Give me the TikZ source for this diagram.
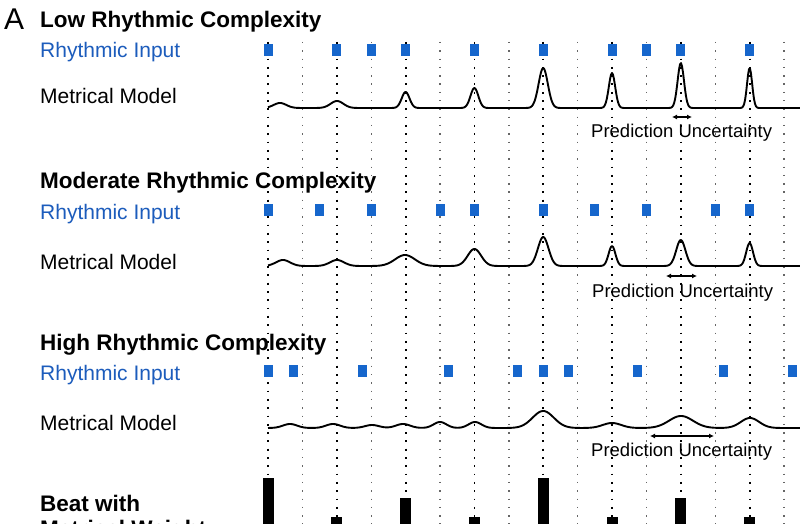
\documentclass[tikz,border=0pt]{standalone}
\usepackage{fontspec}
\setmainfont{Liberation Sans}
\usetikzlibrary{arrows.meta}
\definecolor{onsetblue}{RGB}{22,102,204}
\definecolor{labelblue}{RGB}{28,92,188}
\def\onset(#1,#2){\fill[onsetblue] (#1-4.5,#2-5.7) rectangle (#1+4.5,#2+5.7);}
\def\weight(#1,#2){\fill[black] (#1-5.5,#2) rectangle (#1+5.5,530);}
\pgfmathdeclarefunction{bump}{3}{%
  \begingroup\pgfmathparse{exp(-(min(abs(#1-#2)/#3,4))^2)}\pgfmathsmuggle\pgfmathresult\endgroup}
\tikzset{
  beatline/.style={line width=1.8pt, dash pattern=on 1.8pt off 6.5pt},
  offbeatline/.style={black!60, line width=1.4pt, dash pattern=on 1.4pt off 6.9pt},
  model/.style={line width=1.9pt, line join=round},
  heading/.style={anchor=base west, inner sep=0pt, font=\fontsize{22.5}{27}\selectfont\bfseries},
  rowlabel/.style={anchor=base west, inner sep=0pt, font=\fontsize{21}{25}\selectfont},
  uncertainty/.style={anchor=base west, inner sep=0pt, font=\fontsize{18.5}{22}\selectfont},
  spread/.style={{Latex[length=5pt,width=5pt]}-{Latex[length=5pt,width=5pt]}, line width=1.2pt}
}
\begin{document}
\begin{tikzpicture}[x=1pt, y=-1pt]
			%%%%% START %%%%%
			\clip (0,0) rectangle (800,524);
			\fill[white] (0,0) rectangle (800,524);
			
			% grid of beats
			\foreach \i in {0,2,...,14} \draw[beatline] ({268+34.4*\i},42) -- ({268+34.4*\i},524);
			\foreach \i in {1,3,...,15} \draw[offbeatline] ({268+34.4*\i},42) -- ({268+34.4*\i},524);
			
			\node[anchor=base west, inner sep=0pt, font=\fontsize{30}{36}\selectfont] (panel) at (4,29.5) {A};
			
			% low
			\node[heading] (lowhead) at (40,28) {Low Rhythmic Complexity};
			\node[rowlabel, text=labelblue] (lowinput) at (40,58) {Rhythmic Input};
			\node[rowlabel] (lowmodel) at (40,103.5) {Metrical Model};
			
			\onset(268,50) \onset(336.8,50) \onset(371.2,50) \onset(405.6,50) \onset(474.4,50)
			\onset(543.2,50) \onset(612,50) \onset(646.4,50) \onset(680.8,50) \onset(749.6,50)
			
			\draw[model] plot[domain=268:800, samples=533] (\x, {108 - 5*bump(\x,280,9) - 7*bump(\x,337,9)
				- 16*bump(\x,405.6,5.5) - 20*bump(\x,474.4,5.5) - 40*bump(\x,543.2,6.5) - 35*bump(\x,612,4.5)
				- 45*bump(\x,680.8,4.5) - 40*bump(\x,749.6,3.6)});
			
			\coordinate (lowleft) at (672,117);
			\coordinate (lowright) at (692,117);
			\draw[spread] (lowleft) -- (lowright);
			\node[uncertainty] (lowspread) at (591,138) {Prediction Uncertainty};
			
			% moderate
			\node[heading] (modhead) at (40,188.5) {Moderate Rhythmic Complexity};
			\node[rowlabel, text=labelblue] (modinput) at (40,219) {Rhythmic Input};
			\node[rowlabel] (modmodel) at (40,269) {Metrical Model};
			
			\onset(268,210) \onset(319.6,210) \onset(371.2,210) \onset(440,210) \onset(474.4,210)
			\onset(543.2,210) \onset(594.8,210) \onset(646.4,210) \onset(715.2,210) \onset(749.6,210)
			
			\draw[model] plot[domain=268:800, samples=533] (\x, {266 - 6*bump(\x,283,10) - 6*bump(\x,337,10)
				- 11*bump(\x,405,14) - 17*bump(\x,474.4,9.5) - 29*bump(\x,543.2,7.5) - 20*bump(\x,612,4.8)
				- 26*bump(\x,680.8,6.5) - 23*bump(\x,749.6,4.8)});
			
			\coordinate (modleft) at (666,276);
			\coordinate (modright) at (697,276);
			\draw[spread] (modleft) -- (modright);
			\node[uncertainty] (modspread) at (592,297.5) {Prediction Uncertainty};
			
			% high
			\node[heading] (highhead) at (40,350) {High Rhythmic Complexity};
			\node[rowlabel, text=labelblue] (highinput) at (40,380) {Rhythmic Input};
			\node[rowlabel] (highmodel) at (40,430) {Metrical Model};
			
			\onset(268,371) \onset(293.8,371) \onset(362.6,371) \onset(448.6,371) \onset(517.4,371)
			\onset(543.2,371) \onset(568.6,371) \onset(637.8,371) \onset(723.8,371) \onset(792.6,371)
			
			\draw[model] plot[domain=268:800, samples=533] (\x, {428 - 4*bump(\x,290,10) - 4*bump(\x,333,10)
				- 3*bump(\x,372,10) - 4*bump(\x,403,10) - 6*bump(\x,440,9) - 6*bump(\x,475,9)
				- 17*bump(\x,543.2,15) - 5*bump(\x,612,13) - 12*bump(\x,681,17) - 10*bump(\x,750,13)});
			
			\coordinate (highleft) at (650,436);
			\coordinate (highright) at (714,436);
			\draw[spread] (highleft) -- (highright);
			\node[uncertainty] (highspread) at (591,456.5) {Prediction Uncertainty};
			
			% beat weights
			\node[heading] (beathead) at (40,511) {Beat with};
			\node[heading] (beatweight) at (40,536) {Metrical Weight};
			\weight(268,478) \weight(336.8,517) \weight(405.6,498) \weight(474.4,517)
			\weight(543.2,478) \weight(612,517) \weight(680.8,498) \weight(749.6,517)
			
			%%%%% END %%%%%
\end{tikzpicture}
\end{document}
